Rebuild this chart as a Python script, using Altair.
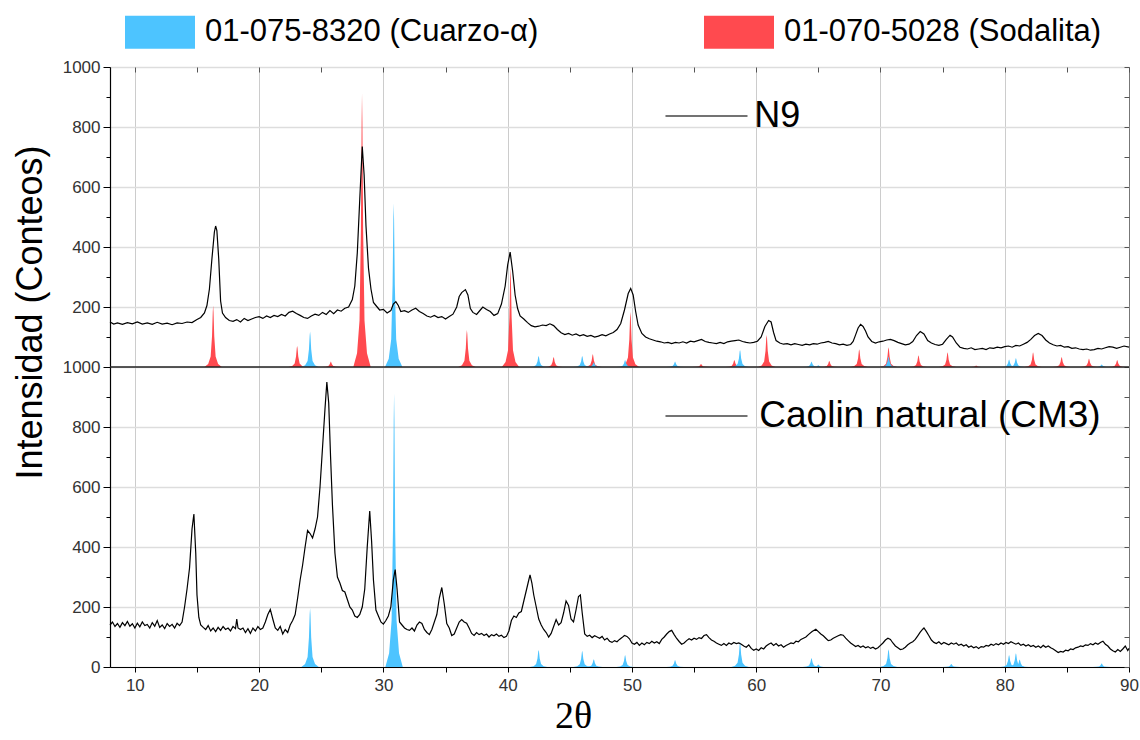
import altair as alt
import pandas as pd

# ---------------- data ----------------
# N9 sample trace (upper panel): 2-theta and counts
N9_X = [8.0, 8.3, 8.6, 9.0, 9.4, 9.8, 10.2, 10.6, 11.0, 11.4, 11.8, 12.2, 12.6, 13.0, 13.4, 13.8, 14.2, 14.6,
        15.0, 15.3, 15.6, 15.8, 16.0, 16.2, 16.4, 16.5, 16.6, 16.75, 16.9, 17.05, 17.3, 17.6, 17.9, 18.2, 18.5,
        18.8, 19.1, 19.4, 19.7, 20.0, 20.3, 20.6, 20.9, 21.2, 21.5, 21.8, 22.1, 22.4, 22.7, 23.0, 23.3, 23.6,
        23.9, 24.2, 24.5, 24.8, 25.1, 25.4, 25.7, 26.0, 26.3, 26.6, 26.9, 27.2, 27.5, 27.7, 27.9, 28.1, 28.3,
        28.45, 28.6, 28.8, 29.0, 29.2, 29.4, 29.7, 30.0, 30.3, 30.6, 30.8, 31.0, 31.2, 31.4, 31.7, 32.0, 32.3,
        32.6, 32.9, 33.2, 33.5, 33.8, 34.1, 34.4, 34.7, 35.0, 35.3, 35.6, 35.9, 36.1, 36.3, 36.6, 36.8, 37.0,
        37.2, 37.5, 37.8, 38.0, 38.3, 38.6, 38.9, 39.2, 39.5, 39.8, 40.0, 40.2, 40.4, 40.6, 40.8, 41.0, 41.3,
        41.6, 41.9, 42.2, 42.5, 42.8, 43.1, 43.4, 43.7, 44.0, 44.3, 44.6, 44.9, 45.2, 45.5, 45.8, 46.1, 46.4,
        46.7, 47.0, 47.3, 47.6, 47.9, 48.2, 48.5, 48.8, 49.1, 49.4, 49.7, 49.9, 50.1, 50.3, 50.5, 50.8, 51.1,
        51.4, 51.7, 52.0, 52.3, 52.6, 52.9, 53.2, 53.5, 53.8, 54.1, 54.4, 54.7, 55.0, 55.3, 55.6, 55.9, 56.2,
        56.5, 56.8, 57.1, 57.4, 57.7, 58.0, 58.3, 58.6, 58.9, 59.2, 59.5, 59.8, 60.1, 60.4, 60.7, 61.0, 61.2,
        61.4, 61.6, 61.9, 62.2, 62.5, 62.8, 63.1, 63.4, 63.7, 64.0, 64.3, 64.6, 64.9, 65.2, 65.5, 65.8, 66.1,
        66.4, 66.7, 67.0, 67.3, 67.6, 67.8, 68.0, 68.2, 68.4, 68.6, 68.8, 69.0, 69.3, 69.6, 69.9, 70.2, 70.5,
        70.8, 71.1, 71.4, 71.7, 72.0, 72.3, 72.6, 72.9, 73.2, 73.5, 73.8, 74.1, 74.4, 74.7, 75.0, 75.3, 75.6,
        75.8, 76.1, 76.4, 76.7, 77.0, 77.3, 77.6, 77.9, 78.2, 78.5, 78.8, 79.1, 79.4, 79.7, 80.0, 80.3, 80.6,
        80.9, 81.2, 81.5, 81.8, 82.1, 82.4, 82.7, 83.0, 83.3, 83.6, 83.9, 84.2, 84.5, 84.8, 85.1, 85.4, 85.7,
        86.0, 86.3, 86.6, 86.9, 87.2, 87.5, 87.8, 88.1, 88.4, 88.7, 89.0, 89.3, 89.6, 90.0]
N9_Y = [150, 143, 147, 142, 148, 144, 150, 143, 147, 142, 149, 143, 146, 141, 147, 145, 150, 148,
        158, 165, 180, 205, 260, 360, 450, 470, 455, 360, 220, 180, 165, 155, 152, 158, 150,
        162, 155, 160, 165, 168, 162, 170, 165, 172, 168, 175, 170, 182, 186, 178, 172, 165,
        162, 170, 176, 172, 182, 175, 188, 178, 190, 186, 196, 200, 225, 270, 380, 560, 735,
        640, 470, 330, 260, 215, 205, 190, 192, 180, 188, 210, 218, 205, 185, 188, 182, 190,
        196, 185, 178, 170, 166, 172, 165, 168, 160, 168, 176, 200, 235, 248, 258, 240, 195,
        182, 175, 190, 200, 192, 185, 172, 178, 210, 270, 340, 383, 320, 240, 195, 170, 160,
        148, 138, 134, 136, 140, 138, 144, 138, 125, 114, 108, 112, 106, 110, 104, 108, 102,
        105, 100, 103, 108, 104, 110, 115, 125, 145, 190, 245, 262, 240, 185, 140, 112, 100,
        94, 90, 86, 84, 80, 82, 78, 82, 80, 84, 80, 86, 84, 88, 92, 85, 82,
        80, 78, 82, 78, 84, 86, 88, 90, 85, 82, 80, 82, 86, 100, 135, 155, 150,
        115, 88, 80, 76, 78, 74, 78, 75, 72, 76, 74, 78, 76, 80, 82, 85, 80,
        78, 74, 76, 72, 75, 85, 107, 130, 142, 135, 120, 100, 85, 80, 84, 86, 90,
        92, 88, 82, 78, 74, 76, 85, 105, 118, 110, 88, 80, 75, 72, 76, 92, 106,
        100, 80, 66, 62, 60, 64, 58, 60, 62, 58, 64, 62, 66, 64, 68, 70, 66,
        72, 70, 76, 82, 92, 105, 112, 105, 90, 80, 74, 70, 72, 66, 68, 62, 64,
        60, 58, 60, 56, 58, 62, 60, 64, 68, 66, 62, 66, 70, 66]

# Caolin natural (CM3) trace (lower panel)
CM3_X = [8.0, 8.2, 8.4, 8.6, 8.8, 9.0, 9.2, 9.4, 9.6, 9.8, 10.0, 10.2, 10.4, 10.6, 10.8, 11.0, 11.2, 11.4,
         11.6, 11.8, 12.0, 12.2, 12.4, 12.6, 12.8, 13.0, 13.2, 13.4, 13.6, 13.8, 14.0, 14.2, 14.4, 14.6, 14.75,
         14.9, 15.0, 15.15, 15.3, 15.5, 15.7, 15.9, 16.1, 16.3, 16.5, 16.7, 16.9, 17.1, 17.3, 17.5, 17.7, 17.9,
         18.1, 18.2, 18.3, 18.5, 18.7, 18.9, 19.1, 19.3, 19.5, 19.7, 19.9, 20.1, 20.3, 20.5, 20.7, 20.9, 21.1,
         21.3, 21.5, 21.7, 21.9, 22.1, 22.3, 22.5, 22.7, 22.9, 23.1, 23.3, 23.5, 23.7, 23.9, 24.1, 24.3, 24.5,
         24.7, 24.9, 25.1, 25.3, 25.45, 25.6, 25.75, 25.9, 26.1, 26.3, 26.5, 26.7, 26.9, 27.1, 27.3, 27.5, 27.7,
         27.9, 28.1, 28.3, 28.5, 28.7, 28.9, 29.05, 29.2, 29.4, 29.6, 29.8, 30.0, 30.2, 30.4, 30.6, 30.8, 30.95,
         31.1, 31.3, 31.5, 31.7, 31.9, 32.1, 32.3, 32.5, 32.7, 32.9, 33.1, 33.3, 33.5, 33.7, 33.9, 34.1, 34.3,
         34.5, 34.7, 34.9, 35.1, 35.3, 35.5, 35.7, 35.9, 36.1, 36.3, 36.5, 36.7, 36.9, 37.1, 37.3, 37.5, 37.7,
         37.9, 38.1, 38.3, 38.5, 38.7, 38.9, 39.1, 39.3, 39.5, 39.7, 39.9, 40.1, 40.3, 40.5, 40.7, 40.9, 41.1,
         41.3, 41.5, 41.7, 41.8, 41.95, 42.1, 42.3, 42.5, 42.7, 42.9, 43.1, 43.3, 43.5, 43.7, 43.9, 44.1, 44.3,
         44.5, 44.7, 44.9, 45.1, 45.3, 45.5, 45.7, 45.85, 46.0, 46.2, 46.4, 46.6, 46.8, 47.0, 47.2, 47.4, 47.6,
         47.8, 48.0, 48.2, 48.4, 48.6, 48.8, 49.0, 49.2, 49.4, 49.6, 49.8, 50.0, 50.2, 50.4, 50.6, 50.8, 51.0,
         51.2, 51.4, 51.6, 51.8, 52.0, 52.2, 52.4, 52.6, 52.8, 53.0, 53.2, 53.4, 53.6, 53.8, 54.0, 54.2, 54.4,
         54.6, 54.8, 55.0, 55.2, 55.4, 55.6, 55.8, 56.0, 56.2, 56.4, 56.6, 56.8, 57.0, 57.2, 57.4, 57.6, 57.8,
         58.0, 58.2, 58.4, 58.6, 58.8, 59.0, 59.2, 59.4, 59.6, 59.8, 60.0, 60.2, 60.4, 60.6, 60.8, 61.0, 61.2,
         61.4, 61.6, 61.8, 62.0, 62.2, 62.4, 62.6, 62.8, 63.0, 63.2, 63.4, 63.6, 63.8, 64.0, 64.2, 64.5, 64.8,
         65.0, 65.2, 65.4, 65.6, 65.8, 66.0, 66.2, 66.4, 66.6, 66.8, 67.0, 67.2, 67.4, 67.6, 67.8, 68.0, 68.2,
         68.4, 68.6, 68.8, 69.0, 69.2, 69.4, 69.6, 69.8, 70.0, 70.2, 70.4, 70.6, 70.8, 71.0, 71.2, 71.4, 71.6,
         71.8, 72.0, 72.2, 72.4, 72.6, 72.8, 73.0, 73.2, 73.4, 73.5, 73.7, 73.9, 74.1, 74.3, 74.5, 74.7, 74.9,
         75.1, 75.3, 75.5, 75.7, 75.9, 76.1, 76.3, 76.5, 76.7, 76.9, 77.1, 77.3, 77.5, 77.7, 77.9, 78.1, 78.3,
         78.5, 78.7, 78.9, 79.1, 79.3, 79.5, 79.7, 79.9, 80.1, 80.3, 80.5, 80.7, 80.9, 81.1, 81.3, 81.5, 81.7,
         81.9, 82.1, 82.3, 82.5, 82.7, 82.9, 83.1, 83.3, 83.5, 83.7, 83.9, 84.1, 84.3, 84.5, 84.7, 84.9, 85.1,
         85.3, 85.5, 85.7, 85.9, 86.1, 86.3, 86.5, 86.7, 86.9, 87.1, 87.3, 87.5, 87.7, 87.9, 88.1, 88.3, 88.5,
         88.7, 88.9, 89.1, 89.3, 89.5, 89.7, 89.9, 90.0]
CM3_Y = [140, 150, 135, 145, 132, 148, 138, 152, 136, 144, 130, 146, 134, 150, 138, 142, 130, 148,
         136, 155, 132, 140, 128, 145, 135, 142, 130, 146, 138, 150, 200, 260, 330, 460, 510,
         380, 240, 165, 140, 132, 125, 138, 120, 130, 118, 132, 122, 135, 125, 130, 120, 135,
         128, 160, 130, 125, 130, 115, 128, 112, 130, 120, 135, 125, 130, 150, 175, 192, 160,
         130, 122, 135, 110, 125, 115, 140, 155, 175, 230, 290, 340, 400, 455, 445, 430, 460,
         500, 600, 730, 860, 950, 880, 700, 540, 380, 300, 280, 255, 250, 225, 200, 190, 170,
         165, 175, 200, 260, 400, 520, 420, 290, 190, 170, 150, 143, 155, 170, 200, 290, 325,
         260, 150, 140, 130, 125, 122, 130, 120, 140, 150, 145, 125, 115, 108, 125, 150, 175,
         230, 265, 210, 145, 130, 105, 110, 130, 150, 158, 150, 146, 130, 112, 105, 115, 108,
         112, 105, 110, 100, 108, 104, 110, 102, 106, 98, 102, 120, 155, 170, 165, 180, 185,
         220, 255, 290, 307, 280, 240, 200, 160, 140, 125, 115, 100, 112, 135, 158, 140, 148,
         180, 220, 205, 160, 150, 190, 235, 240, 180, 110, 102, 106, 98, 104, 100, 96, 102,
         90, 96, 86, 82, 88, 84, 92, 98, 105, 102, 94, 80, 76, 82, 72, 80, 74,
         82, 78, 86, 80, 84, 78, 92, 100, 110, 118, 122, 108, 95, 85, 76, 80, 88,
         94, 90, 96, 92, 98, 95, 105, 108, 98, 90, 86, 80, 76, 72, 78, 72, 80,
         76, 82, 78, 80, 76, 70, 66, 74, 62, 56, 60, 55, 64, 60, 70, 76, 80,
         72, 78, 70, 74, 66, 72, 76, 80, 78, 86, 84, 92, 96, 100, 108, 118, 126,
         118, 110, 104, 96, 88, 90, 96, 100, 104, 108, 106, 96, 88, 80, 74, 68, 72,
         66, 70, 64, 68, 62, 66, 60, 64, 72, 80, 90, 96, 92, 80, 70, 64, 58,
         60, 66, 74, 80, 84, 92, 104, 116, 126, 130, 118, 104, 90, 82, 78, 84, 76,
         82, 78, 74, 80, 76, 80, 72, 76, 70, 74, 66, 70, 64, 68, 62, 68, 66,
         72, 70, 76, 72, 78, 74, 80, 76, 82, 78, 84, 80, 76, 80, 72, 76, 70,
         74, 68, 72, 66, 70, 64, 72, 66, 70, 64, 60, 54, 48, 52, 50, 56, 54,
         60, 58, 64, 66, 70, 68, 74, 72, 78, 74, 80, 76, 82, 86, 76, 70, 60,
         54, 50, 58, 52, 60, 70, 55, 62]

# Reference patterns: peak positions (2-theta) and heights (counts)
SOD_TOP_POS = [16.3, 23.06, 25.77, 28.28, 36.72, 40.23, 43.7, 46.85, 49.88, 55.56, 58.24, 60.84,
               65.88, 68.29, 70.65, 73.06, 75.4, 77.7, 82.28, 84.58, 86.78, 89.05]
SOD_TOP_H = [205, 70, 18, 912, 123, 330, 33, 43, 184, 10, 23, 107,
             20, 59, 66, 39, 49, 5, 49, 33, 28, 23]
QTZ_TOP_POS = [24.1, 30.83, 42.49, 46.0, 46.93, 49.45, 53.47, 58.7, 64.45, 65.0, 70.65, 80.35, 80.9, 87.8]
QTZ_TOP_H = [118, 546, 37, 37, 15, 23, 18, 57, 18, 6, 35, 25, 30, 8]
QTZ_BOT_POS = [24.1, 30.86, 42.49, 46.0, 46.93, 49.45, 53.47, 58.7, 64.45, 65.0, 70.65, 75.7,
               80.35, 80.9, 81.2, 87.8]
QTZ_BOT_H = [196, 912, 57, 54, 26, 40, 23, 84, 30, 8, 59, 10, 40, 46, 25, 12]

PHASES = ["01-075-8320 (Cuarzo-\u03b1)", "01-070-5028 (Sodalita)"]
PHASE_COLORS = ["#4DC4FF", "#FF4A4F"]
SAMPLES = ["N9", "Caolin natural (CM3)"]

X_TICKS = list(range(10, 95, 5))
X_GRID = list(range(10, 90, 10))
Y_MAJOR = list(range(0, 2001, 200))
Y_MINOR = list(range(100, 2000, 200))
Y_ALL = list(range(0, 2001, 100))

# ---------------- styling / layout constants ----------------
PANEL_OFFSET = 1000          # upper panel sits on top of the lower one
PROFILE_DX = [-0.7, -0.4, -0.2, -0.09, -0.03, 0.0, 0.03, 0.09, 0.2, 0.4, 0.7]
PROFILE_F = [0.0, 0.05, 0.17, 0.5, 0.9, 1.0, 0.9, 0.5, 0.17, 0.05, 0.0]
FONT = "Liberation Sans"

xs = alt.Scale(domain=[8, 90], nice=False, zero=False)
ys = alt.Scale(domain=[0, 2000], nice=False, zero=False)

# ---------------- build tables ----------------
rows = []
pid = 0
for pos_list, h_list, phase, base in [
    (SOD_TOP_POS, SOD_TOP_H, PHASES[1], PANEL_OFFSET),
    (QTZ_TOP_POS, QTZ_TOP_H, PHASES[0], PANEL_OFFSET),
    (QTZ_BOT_POS, QTZ_BOT_H, PHASES[0], 0),
]:
    for p, h in zip(pos_list, h_list):
        for dx, f in zip(PROFILE_DX, PROFILE_F):
            rows.append({"x": p + dx, "y": base + h * f, "y0": base, "pid": pid, "phase": phase})
        pid += 1
peaks = pd.DataFrame(rows)

n9 = pd.DataFrame({"x": N9_X, "counts": N9_Y})
cm3 = pd.DataFrame({"x": CM3_X, "counts": CM3_Y})
frame = pd.DataFrame({"x": [8, 90], "y": [0, 2000]})

noax_x = lambda f: alt.X(f, scale=xs, axis=None, title=None)
noax_y = lambda f, **k: alt.Y(f, scale=ys, axis=None, title=None, **k)

# ---------------- axes carriers ----------------
axis_main = alt.Chart(frame).mark_point(opacity=0).encode(
    x=alt.X("x:Q", scale=xs, axis=alt.Axis(
        orient="bottom", values=X_TICKS, format="d",
        labelExpr="datum.value % 10 === 0 ? datum.label : ''",
        grid=False, tickSize=5, tickColor="black", domainColor="black", domainWidth=1.2,
        labelFont=FONT, labelFontSize=17, labelColor="#333", labelPadding=5,
        labelFlush=False, labelOverlap=False,
        title="2\u03b8", titleFont="Liberation Serif", titleFontSize=38, titleFontWeight="normal",
        titleColor="black", titleX=463, titleY=49, titleBaseline="middle", titleAlign="center")),
    y=alt.Y("y:Q", scale=ys, axis=alt.Axis(
        orient="left", values=Y_MAJOR, format="d",
        labelExpr="format(datum.value > 1000 ? datum.value - 1000 : datum.value, 'd')",
        grid=True, gridColor="#dddddd", gridWidth=1.5, tickSize=7, tickColor="black",
        domainColor="black", domainWidth=1.2, labelFont=FONT, labelFontSize=17, labelColor="#333",
        labelPadding=3, labelFlush=False, labelOverlap=False,
        title="Intensidad (Conteos)", titleFont=FONT, titleFontSize=36, titleFontWeight="normal",
        titleColor="black", titleAngle=270, titleX=-80, titleY=245, titleBaseline="middle",
        titleAlign="center")),
)
axis_xgrid = alt.Chart(frame).mark_point(opacity=0).encode(
    x=alt.X("x:Q", scale=xs, axis=alt.Axis(orient="bottom", values=X_GRID, grid=True,
            gridColor="#cccccc", gridWidth=1, ticks=False, labels=False, domain=False, title=None)),
    y=noax_y("y:Q"),
)
axis_xtop = alt.Chart(frame).mark_point(opacity=0).encode(
    x=alt.X("x:Q", scale=xs, axis=alt.Axis(orient="top", values=X_TICKS, offset=-5, tickSize=5,
            tickColor="#555", grid=False, labels=False, domain=False, title=None)),
    y=noax_y("y:Q"),
)
axis_yminor = alt.Chart(frame).mark_point(opacity=0).encode(
    x=noax_x("x:Q"),
    y=alt.Y("y:Q", scale=ys, axis=alt.Axis(orient="left", values=Y_MINOR, tickSize=4,
            tickColor="black", grid=False, labels=False, domain=False, title=None)),
)
axis_yright = alt.Chart(frame).mark_point(opacity=0).encode(
    x=noax_x("x:Q"),
    y=alt.Y("y:Q", scale=ys, axis=alt.Axis(orient="right", values=Y_ALL, offset=-5, tickSize=5,
            tickColor="#555", grid=False, labels=False, domain=False, title=None)),
)

# ---------------- data layers ----------------
areas = alt.Chart(peaks).mark_area(opacity=1, interpolate="linear").encode(
    x=noax_x("x:Q"),
    y=noax_y("y:Q", stack=None),
    y2="y0:Q",
    detail="pid:N",
    color=alt.Color("phase:N", scale=alt.Scale(domain=PHASES, range=PHASE_COLORS),
                    legend=alt.Legend(
                        title=None, orient="none", legendX=15, legendY=-70, direction="horizontal",
                        symbolType="M-1,-0.47L1,-0.47L1,0.47L-1,0.47Z", symbolSize=4900,
                        symbolStrokeWidth=0, symbolOpacity=1, labelFont=FONT, labelFontSize=31,
                        labelColor="black", labelOffset=10, columnPadding=165, labelLimit=800,
                        padding=0)),
)

line_n9 = alt.Chart(n9).transform_calculate(yp=f"datum.counts + {PANEL_OFFSET}").mark_line(
    color="black", strokeWidth=1.2).encode(x=noax_x("x:Q"), y=noax_y("yp:Q"))
line_cm3 = alt.Chart(cm3).mark_line(color="black", strokeWidth=1.2).encode(
    x=noax_x("x:Q"), y=noax_y("counts:Q"))

sep = alt.Chart(pd.DataFrame({"y": [PANEL_OFFSET]})).mark_rule(color="#222", strokeWidth=1.3).encode(
    y=noax_y("y:Q"))

keys = pd.DataFrame({
    "label": SAMPLES,
    "x1": [52.7, 52.7], "x2": [59.3, 59.3], "tx": [59.85, 60.25],
    "y": [837 + PANEL_OFFSET, 837], "size": [36, 37],
})
key_lines = alt.Chart(keys).mark_rule(color="#444", strokeWidth=1.5).encode(
    x=noax_x("x1:Q"), x2="x2:Q", y=noax_y("y:Q"))
key_text = alt.Chart(keys).mark_text(align="left", baseline="middle", font=FONT, color="black").encode(
    x=noax_x("tx:Q"), y=noax_y("y:Q"), text="label:N",
    size=alt.Size("size:Q", scale=None, legend=None))

chart = alt.layer(
    axis_main, axis_xgrid, axis_xtop, axis_yminor, axis_yright,
    areas, line_n9, line_cm3, sep, key_lines, key_text,
).resolve_axis(x="independent", y="independent").properties(
    width=1019, height=600,
    autosize=alt.AutoSizeParams(type="none"),
    padding={"left": 110, "top": 67, "right": 11, "bottom": 73},
    background="white",
).configure_view(stroke="#777", strokeWidth=1)

chart.save("out.html", embed_options={"renderer": "svg", "actions": False})
